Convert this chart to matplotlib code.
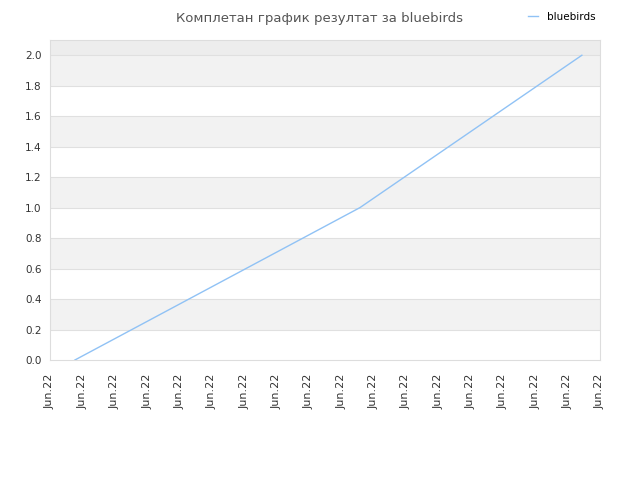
import matplotlib
matplotlib.use("Agg")
import matplotlib.pyplot as plt
import numpy as np

# data
x_points = [0.77, 9.58, 16.44]
scores = [0.0, 1.0, 2.0]
tick_labels = ["Jun.22"] * 18
series_name = "bluebirds"
title = "Комплетан график резултат за bluebirds"

fig = plt.figure(figsize=(6.4, 4.8), dpi=100)
ax = fig.add_axes([50 / 640, 120 / 480, 550 / 640, 320 / 480])

# alternating horizontal bands
ymax = 2.1
for i, lo in enumerate(np.arange(0, 2.0, 0.2)):
    if i % 2 == 1:
        ax.axhspan(lo, lo + 0.2, color="#f2f2f2", zorder=0, lw=0)
ax.axhspan(2.0, ymax, color="#ededed", zorder=0, lw=0)
for y in np.arange(0.2, 2.01, 0.2):
    ax.axhline(y, color="#e0e0e0", lw=0.8, zorder=1)

ax.plot(x_points, scores, color="#90c2f5", lw=1, label=series_name, zorder=3)

ax.set_xlim(0, len(tick_labels) - 1)
ax.set_ylim(0, ymax)
ax.set_xticks(range(len(tick_labels)))
ax.set_xticklabels(tick_labels, rotation=90, fontsize=8, color="#333333")
ax.set_yticks(np.arange(0, 2.01, 0.2))
ax.set_yticklabels([f"{v:.1f}" for v in np.arange(0, 2.01, 0.2)], fontsize=7.5, color="#333333")
ax.tick_params(axis="y", length=0, pad=6)
ax.tick_params(axis="x", length=0, pad=10)
for s in ax.spines.values():
    s.set_color("#dddddd")
    s.set_linewidth(0.8)

fig.text(0.5, 0.975, title, ha="center", va="top", fontsize=9.5, color="#555555")
fig.legend(loc="upper right", bbox_to_anchor=(0.945, 0.995), frameon=False,
           fontsize=7.5, handlelength=1.0, handletextpad=0.8)

fig.savefig("out.png", dpi=100)
